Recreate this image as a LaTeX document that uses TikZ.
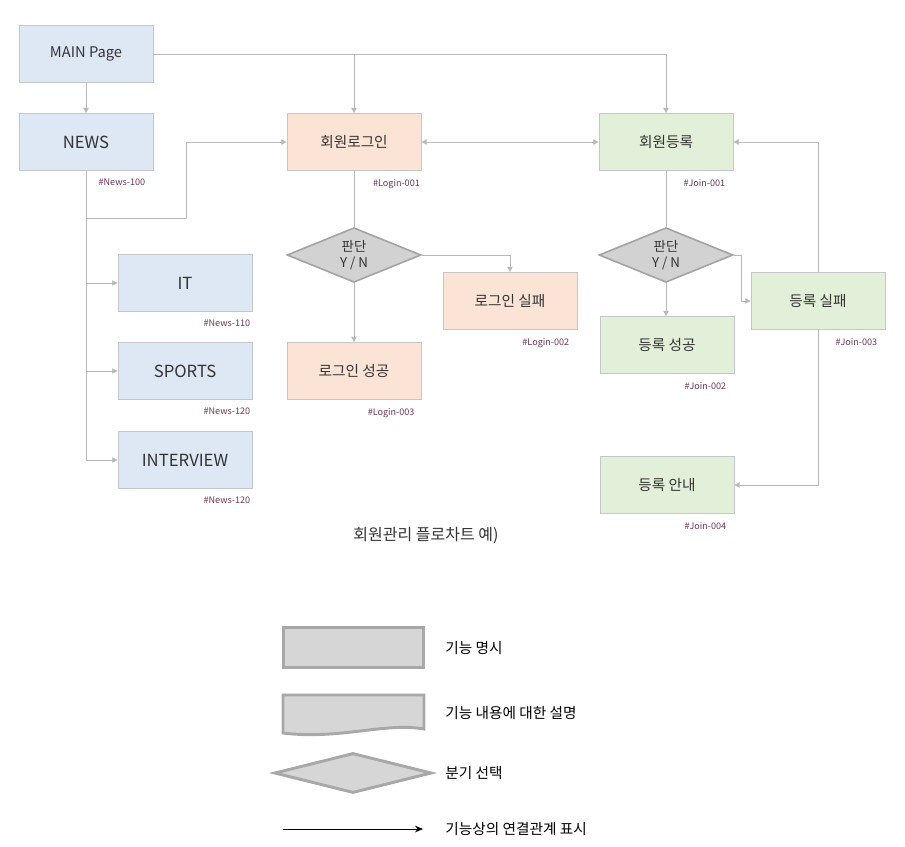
\documentclass[tikz,border=0pt]{standalone}
\usepackage{fontspec}
\setmainfont{Noto Sans CJK KR}
\usetikzlibrary{positioning,shapes.geometric,arrows.meta}

\definecolor{newsblue}{HTML}{DDE8F4}
\definecolor{loginorange}{HTML}{FBE4D5}
\definecolor{joingreen}{HTML}{E2EFD9}
\definecolor{boxline}{HTML}{C4C7CA}
\definecolor{boxtext}{HTML}{333333}
\definecolor{decgray}{HTML}{D2D2D2}
\definecolor{decline}{HTML}{A3A3A3}
\definecolor{connline}{HTML}{B8B8B8}
\definecolor{tagcolor}{HTML}{6E3456}
\definecolor{legfill}{HTML}{D6D6D6}
\definecolor{legline}{HTML}{A8A8A8}

\tikzstyle{box} = [
    rectangle,
    minimum width=100.5pt, minimum height=42.75pt,
    text centered, draw=boxline, line width=0.6pt,
    text=boxtext, font=\fontsize{11}{13}\selectfont
]
\tikzstyle{newsbox} = [box, fill=newsblue]
\tikzstyle{loginbox} = [box, fill=loginorange]
\tikzstyle{joinbox} = [box, fill=joingreen]
\tikzstyle{decision} = [
    diamond, aspect=2.4, inner sep=0pt,
    minimum width=100.5pt, minimum height=41pt,
    fill=decgray, draw=decline, line width=1.2pt,
    align=center, text=boxtext, font=\fontsize{10}{12}\selectfont
]
\tikzstyle{idtag} = [inner sep=0pt, text=tagcolor, font=\fontsize{6.8}{7}\selectfont]
\tikzstyle{wire} = [draw=connline, line width=0.7pt]
\tikzstyle{arrow} = [wire, -{Triangle[length=4pt,width=4pt]}]
\tikzstyle{twoway} = [wire, {Triangle[length=4pt,width=4pt]}-{Triangle[length=4pt,width=4pt]}]
\tikzstyle{legtext} = [anchor=west, inner sep=0pt, text=black, font=\fontsize{11}{13}\selectfont]

\begin{document}
\begin{tikzpicture}[x=0.75pt, y=-0.75pt]
    \useasboundingbox (0,0) rectangle (905,846);

    % news column
    \node (main) [newsbox] at (86,54) {MAIN Page};
    \node (news) [newsbox, font=\fontsize{12.5}{14}\selectfont] at (86,142) {NEWS};
    \node (it) [newsbox, font=\fontsize{12.5}{14}\selectfont] at (185,283) {IT};
    \node (sports) [newsbox, font=\fontsize{12.5}{14}\selectfont] at (185,371) {SPORTS};
    \node (inter) [newsbox, font=\fontsize{12.5}{14}\selectfont] at (185,460) {INTERVIEW};

    % login column
    \node (login) [loginbox] at (354,142) {회원로그인};
    \node (ldec) [decision] at (354,255) {판단\\Y / N};
    \node (lok) [loginbox] at (354,371) {로그인 성공};
    \node (lfail) [loginbox] at (510,301) {로그인 실패};

    % join column
    \node (join) [joinbox] at (666,142) {회원등록};
    \node (jdec) [decision] at (666,255) {판단\\Y / N};
    \node (jok) [joinbox] at (667,345) {등록 성공};
    \node (jfail) [joinbox] at (818,301) {등록 실패};
    \node (jinfo) [joinbox] at (667,485) {등록 안내};

    % id tags
    \node (t1) [idtag, below left=6pt and 6pt of news.south east] {\#News-100};
    \node (t2) [idtag, below left=6pt and 1.5pt of it.south east] {\#News-110};
    \node (t3) [idtag, below left=6pt and 1.5pt of sports.south east] {\#News-120};
    \node (t4) [idtag, below left=6pt and 1.5pt of inter.south east] {\#News-120};
    \node (t5) [idtag, below left=6pt and 1pt of login.south east] {\#Login-001};
    \node (t6) [idtag, below left=6pt and 6pt of lfail.south east] {\#Login-002};
    \node (t7) [idtag, below left=6pt and 5pt of lok.south east] {\#Login-003};
    \node (t8) [idtag, below left=6pt and 6pt of join.south east] {\#Join-001};
    \node (t9) [idtag, below left=6pt and 6pt of jok.south east] {\#Join-002};
    \node (t10) [idtag, below left=6pt and 6pt of jfail.south east] {\#Join-003};
    \node (t11) [idtag, below left=6pt and 6pt of jinfo.south east] {\#Join-004};

    \node (caption) [text=boxtext, font=\fontsize{12}{14}\selectfont] at (426,535) {회원관리 플로차트 예)};

    % connectors
    \draw [arrow] (main) -- (news);
    \draw [arrow] (main.east) -| (join.north);
    \draw [arrow] (main.east -| login.north) -- (login.north);
    \draw [arrow] (news.south) |- (it.west);
    \draw [arrow] (news.south) |- (sports.west);
    \draw [arrow] (news.south) |- (inter.west);
    \draw [arrow] (news.south) |- (186,218) |- (login.west);
    \draw [twoway] (login) -- (join);
    \draw [wire] (login) -- (ldec);
    \draw [arrow] (ldec) -- (lok);
    \draw [arrow] (ldec.east) -| (lfail.north);
    \draw [wire] (join) -- (jdec);
    \draw [arrow] (jdec.south) -- (jdec.south |- jok.north);
    \draw [arrow] (jdec.east) -- ++(8,0) |- (jfail.west);
    \draw [arrow] (jfail.north) |- (join.east);
    \draw [arrow] (jfail.south) |- (jinfo.east);

    % legend
    \node (leg1) [rectangle, minimum width=105pt, minimum height=30pt,
        fill=legfill, draw=legline, line width=2.2pt] at (353.5,647.5) {};
    \node (leg1t) [legtext] at (445,648) {기능 명시};
    \draw [fill=legfill, draw=legline, line width=2.2pt]
        (283,695) -- (424,695) -- (424,729)
        .. controls (385,722) and (340,740) .. (283,733) -- cycle;
    \node (leg2t) [legtext] at (445,713) {기능 내용에 대한 설명};
    \node (leg3) [diamond, aspect=3.8, inner sep=0pt,
        minimum width=118pt, minimum height=30pt,
        fill=legfill, draw=legline, line width=2.2pt] at (353,773) {};
    \node (leg3t) [legtext] at (445,773) {분기 선택};
    \coordinate (legA) at (283,829);
    \coordinate (legB) at (423,829);
    \draw [-{Stealth[length=6pt,width=5pt]}, line width=0.7pt] (legA) -- (legB);
    \node (leg4t) [legtext] at (445,829) {기능상의 연결관계 표시};
\end{tikzpicture}
\end{document}
